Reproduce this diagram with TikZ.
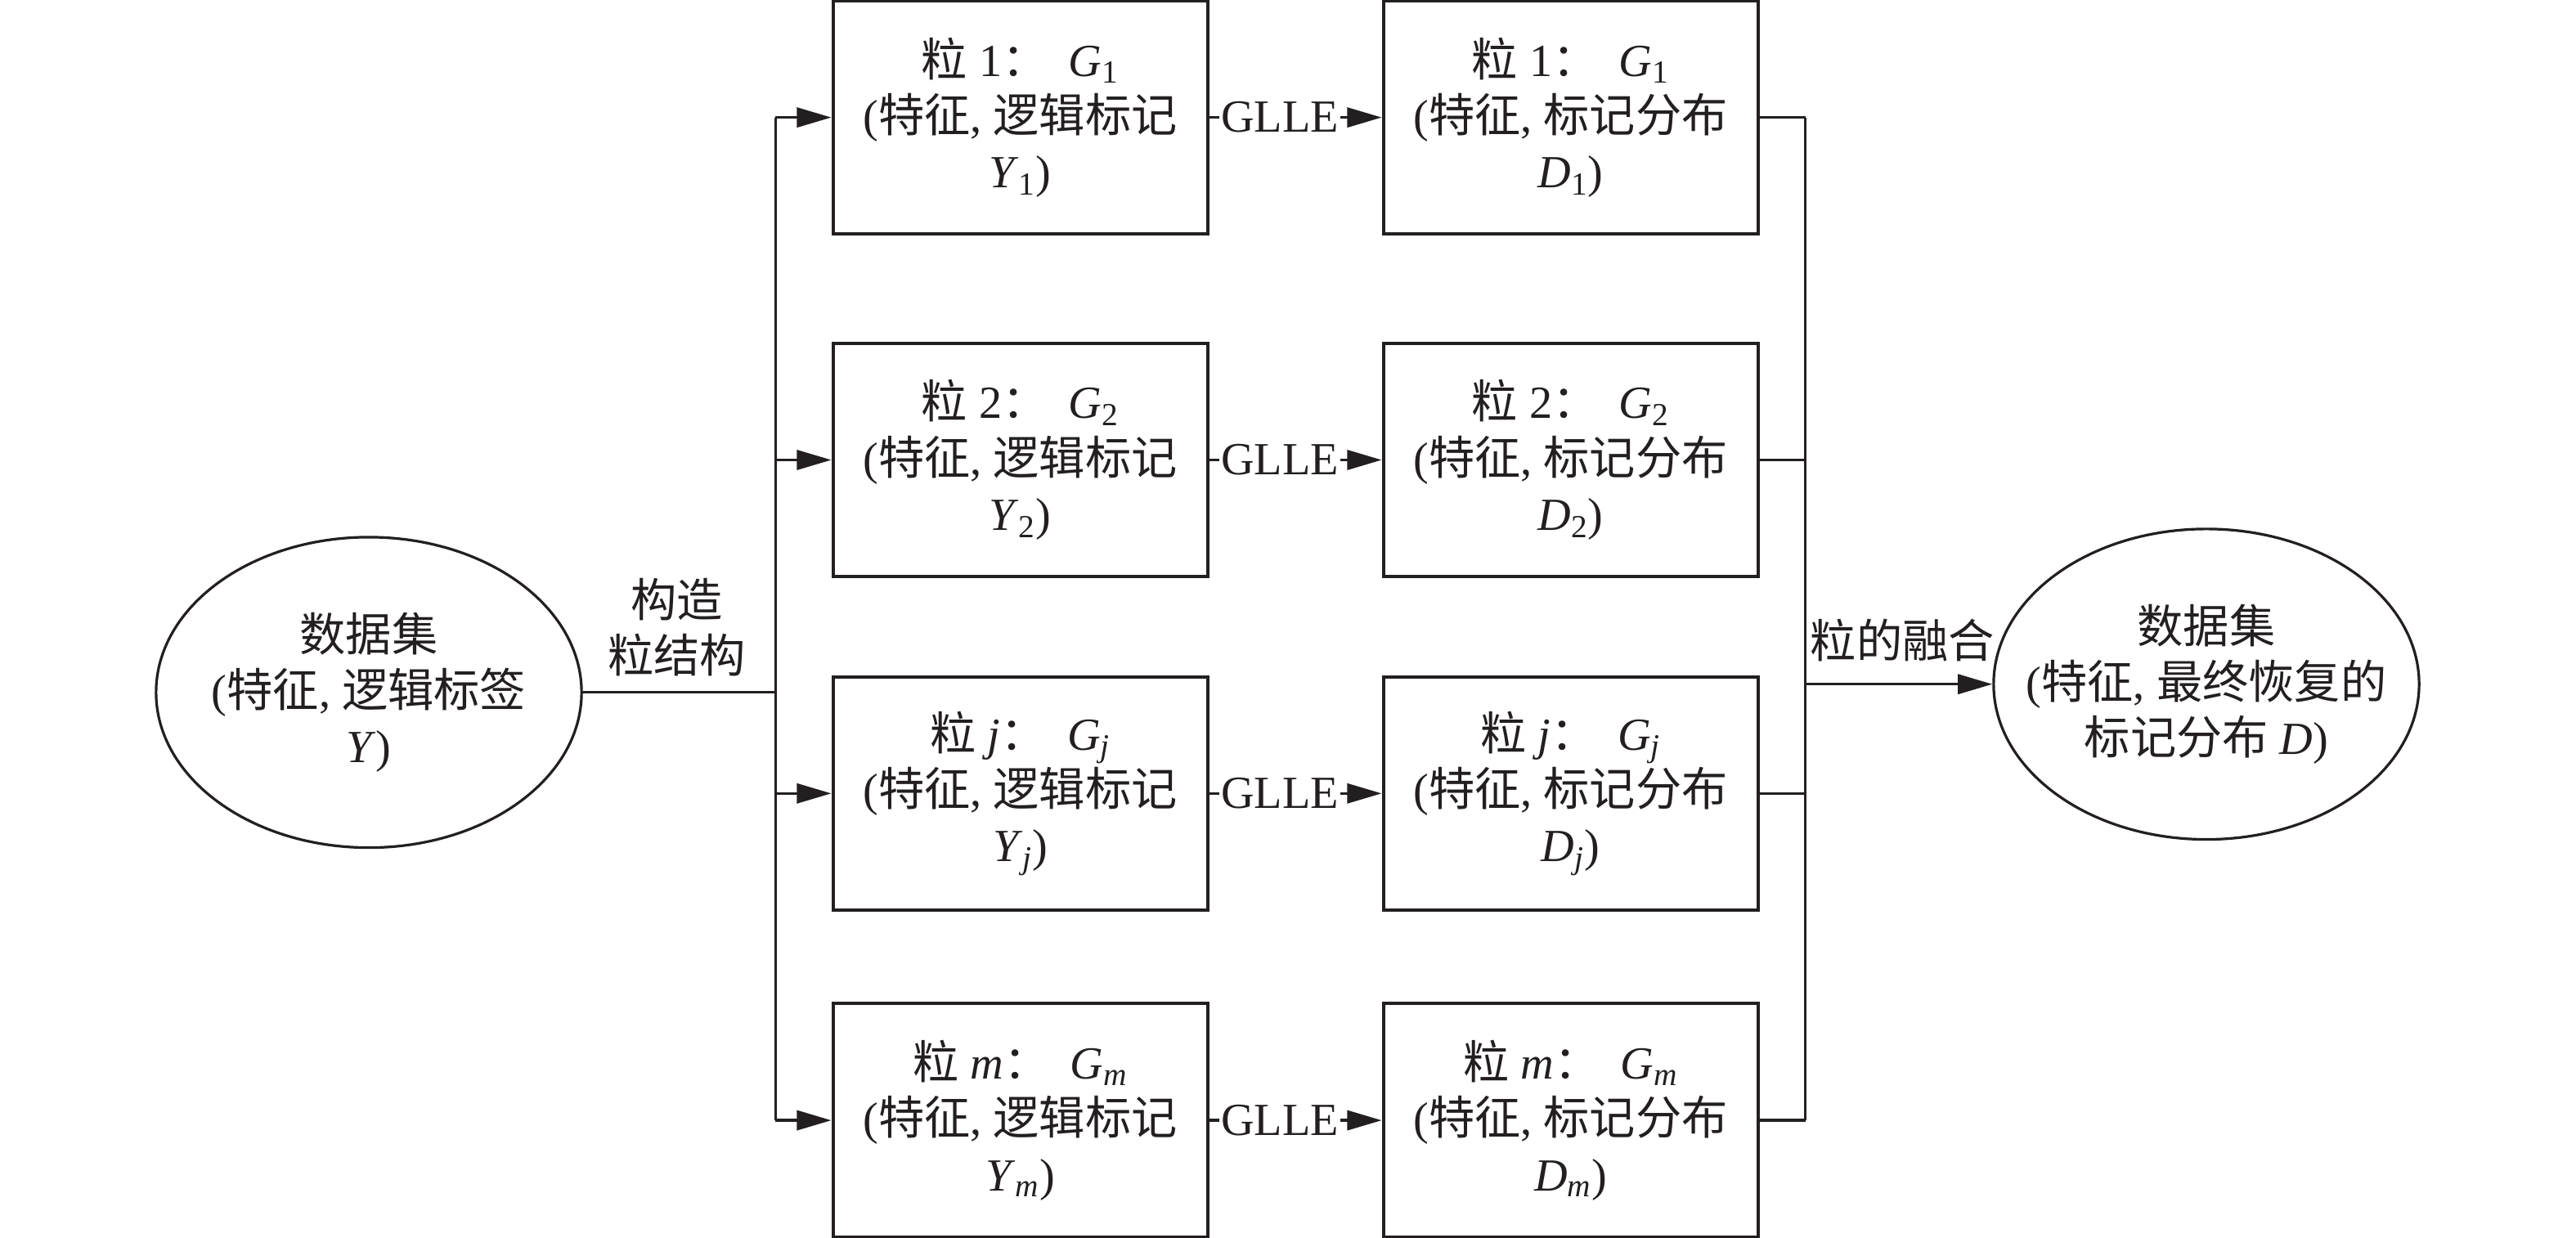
\documentclass[tikz,border=0pt]{standalone}
\usepackage{fontspec}
\setmainfont{Liberation Serif}
\newfontfamily\cjk{Noto Sans CJK SC}
\usetikzlibrary{shapes.geometric,arrows.meta}
\newcommand\zh[1]{{\cjk #1}}
\newcommand\vsub[2]{\textit{#1}\textsubscript{#2}}
\newcommand\colsp{\zh{：}\hspace{0.45em}}
\definecolor{ink}{RGB}{35,31,32}
\begin{document}
\begin{tikzpicture}[x=1pt,y=-1pt,
  every node/.style={font=\fontsize{28}{34}\selectfont, text=ink},
  box/.style={draw=ink, line width=2pt, minimum width=228pt, minimum height=142pt, inner sep=0pt, align=center},
  ell/.style={draw=ink, ellipse, line width=1.6pt, minimum width=259pt, minimum height=189pt, inner sep=0pt},
  txt/.style={align=center, inner sep=0pt},
  conn/.style={draw=ink, line width=1.6pt},
  arr/.style={conn, -{Triangle[length=21pt,width=12pt]}},
  glle/.style={pos=0.41, fill=white, inner xsep=1pt, inner ysep=0pt},
]
\path[use as bounding box] (0,0) rectangle (1568,753.6);

% ellipses
\node[ell] (e1) at (224.5,421.5) {};
\node[txt] (e1t) at (e1.center) {\zh{数据集}\\(\zh{特征}, \zh{逻辑标签}\\\textit{Y})};
\node[ell] (e2) at (1343,416.5) {};
\node[txt] (e2t) at (e2.center) {\zh{数据集}\\(\zh{特征}, \zh{最终恢复的}\\\zh{标记分布} \textit{D})};

% boxes
\node[box] (a1) at (621,71.5) {\zh{粒} 1\colsp\vsub{G}{1}\\(\zh{特征}, \zh{逻辑标记}\\\vsub{Y}{1})};
\node[box] (a2) at (621,280) {\zh{粒} 2\colsp\vsub{G}{2}\\(\zh{特征}, \zh{逻辑标记}\\\vsub{Y}{2})};
\node[box] (a3) at (621,483) {\zh{粒} \textit{j}\colsp\vsub{G}{\textit{j}}\\(\zh{特征}, \zh{逻辑标记}\\\vsub{Y}{\textit{j}})};
\node[box] (a4) at (621,682) {\zh{粒} \textit{m}\colsp\vsub{G}{\textit{m}}\\(\zh{特征}, \zh{逻辑标记}\\\vsub{Y}{\textit{m}})};

\node[box] (b1) at (956,71.5) {\zh{粒} 1\colsp\vsub{G}{1}\\(\zh{特征}, \zh{标记分布}\\\vsub{D}{1})};
\node[box] (b2) at (956,280) {\zh{粒} 2\colsp\vsub{G}{2}\\(\zh{特征}, \zh{标记分布}\\\vsub{D}{2})};
\node[box] (b3) at (956,483) {\zh{粒} \textit{j}\colsp\vsub{G}{\textit{j}}\\(\zh{特征}, \zh{标记分布}\\\vsub{D}{\textit{j}})};
\node[box] (b4) at (956,682) {\zh{粒} \textit{m}\colsp\vsub{G}{\textit{m}}\\(\zh{特征}, \zh{标记分布}\\\vsub{D}{\textit{m}})};

% left trunk
\coordinate (L1) at (472,71.5);
\coordinate (L4) at (472,682);
\draw[conn] (e1.east) -- (e1.east -| L1);
\draw[conn] (L1) -- (L4);
\foreach \n in {a1,a2,a3,a4} \draw[arr] (\n.west -| L1) -- (\n.west);
\node[txt] (lab1) at (412,382) {\zh{构造}\\\zh{粒结构}};

% GLLE arrows
\foreach \i in {1,2,3,4} \draw[arr] (a\i.east) -- node[glle] {GLLE} (b\i.west);

% right trunk
\coordinate (R1) at (1099,71.5);
\coordinate (R4) at (1099,682);
\foreach \n in {b1,b2,b3,b4} \draw[conn] (\n.east) -- (\n.east -| R1);
\draw[conn] (R1) -- (R4);
\draw[arr] (e2.west -| R1) -- (e2.west);
\node[txt] (lab2) at (1158,390) {\zh{粒的融合}};
\end{tikzpicture}
\end{document}
